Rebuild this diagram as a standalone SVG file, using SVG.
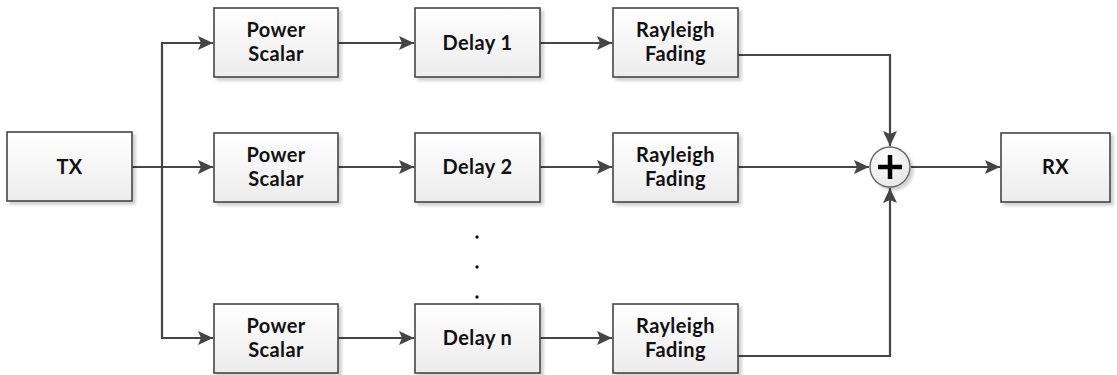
<svg xmlns="http://www.w3.org/2000/svg" width="1117" height="375" viewBox="0 0 1117 375">
  <style>
    .box { fill: url(#boxFill); stroke: #454545; stroke-width: 1.6; filter: url(#shadow); }
    .lbl { font-family: Lato, "Open Sans", "Liberation Sans", sans-serif; font-weight: 700; font-size: 20px; letter-spacing: 0.4px; fill: #111; text-anchor: middle; }
    .wire { fill: none; stroke: #454545; stroke-width: 2.2; }
    .dot { fill: #111; }
  </style>
  <defs>
    <linearGradient id="boxFill" x1="0" y1="0" x2="0" y2="1">
      <stop offset="0" stop-color="#ffffff"/>
      <stop offset="1" stop-color="#ececec"/>
    </linearGradient>
    <radialGradient id="sumFill" cx="0.4" cy="0.35" r="0.7">
      <stop offset="0" stop-color="#ffffff"/>
      <stop offset="1" stop-color="#e6e6e6"/>
    </radialGradient>
    <filter id="shadow" x="-10%" y="-10%" width="125%" height="130%">
      <feDropShadow dx="3" dy="3" stdDeviation="1.5" flood-color="#000" flood-opacity="0.18"/>
    </filter>
    <marker id="arrow" markerUnits="userSpaceOnUse" markerWidth="16" markerHeight="14" refX="15" refY="7" orient="auto">
      <path d="M0,0 L15,7 L0,14 L3,7 Z" fill="#454545"/>
    </marker>
  </defs>

  <!-- connectors -->
  <g id="connectors">
    <line class="wire" x1="132" y1="167" x2="213" y2="167" marker-end="url(#arrow)"/>
    <line class="wire" x1="162" y1="43" x2="162" y2="338"/>
    <line class="wire" x1="161" y1="43" x2="213" y2="43" marker-end="url(#arrow)"/>
    <line class="wire" x1="161" y1="338" x2="213" y2="338" marker-end="url(#arrow)"/>

    <line class="wire" x1="338" y1="43" x2="414" y2="43" marker-end="url(#arrow)"/>
    <line class="wire" x1="338" y1="167" x2="414" y2="167" marker-end="url(#arrow)"/>
    <line class="wire" x1="338" y1="338" x2="414" y2="338" marker-end="url(#arrow)"/>

    <line class="wire" x1="540" y1="43" x2="612" y2="43" marker-end="url(#arrow)"/>
    <line class="wire" x1="540" y1="167" x2="612" y2="167" marker-end="url(#arrow)"/>
    <line class="wire" x1="540" y1="338" x2="612" y2="338" marker-end="url(#arrow)"/>

    <polyline class="wire" points="738,55 890,55 890,146" marker-end="url(#arrow)"/>
    <line class="wire" x1="738" y1="167" x2="869" y2="167" marker-end="url(#arrow)"/>
    <polyline class="wire" points="738,356 890,356 890,188" marker-end="url(#arrow)"/>

    <line class="wire" x1="911" y1="167" x2="1000" y2="167" marker-end="url(#arrow)"/>
  </g>

  <!-- source -->
  <g id="tx">
    <rect class="box" x="7" y="132" width="125" height="69"/>
    <text class="lbl" x="69.5" y="174">TX</text>
  </g>

  <!-- path 1 -->
  <g id="power1">
    <rect class="box" x="214" y="8" width="124" height="69"/>
    <text class="lbl" x="276" y="37">Power</text>
    <text class="lbl" x="276" y="61">Scalar</text>
  </g>
  <g id="delay1">
    <rect class="box" x="415" y="8" width="125" height="69"/>
    <text class="lbl" x="477.5" y="50">Delay 1</text>
  </g>
  <g id="fading1">
    <rect class="box" x="613" y="8" width="125" height="69"/>
    <text class="lbl" x="675.5" y="37">Rayleigh</text>
    <text class="lbl" x="675.5" y="61">Fading</text>
  </g>

  <!-- path 2 -->
  <g id="power2">
    <rect class="box" x="214" y="133" width="124" height="69"/>
    <text class="lbl" x="276" y="162">Power</text>
    <text class="lbl" x="276" y="186">Scalar</text>
  </g>
  <g id="delay2">
    <rect class="box" x="415" y="133" width="125" height="69"/>
    <text class="lbl" x="477.5" y="174">Delay 2</text>
  </g>
  <g id="fading2">
    <rect class="box" x="613" y="133" width="125" height="69"/>
    <text class="lbl" x="675.5" y="162">Rayleigh</text>
    <text class="lbl" x="675.5" y="186">Fading</text>
  </g>

  <!-- ellipsis between paths -->
  <g id="ellipsis">
    <circle class="dot" cx="477" cy="237" r="1.7"/>
    <circle class="dot" cx="477" cy="267" r="1.7"/>
    <circle class="dot" cx="477" cy="297" r="1.7"/>
  </g>

  <!-- path n -->
  <g id="powerN">
    <rect class="box" x="214" y="304" width="124" height="69"/>
    <text class="lbl" x="276" y="333">Power</text>
    <text class="lbl" x="276" y="357">Scalar</text>
  </g>
  <g id="delayN">
    <rect class="box" x="415" y="304" width="125" height="69"/>
    <text class="lbl" x="477.5" y="345">Delay n</text>
  </g>
  <g id="fadingN">
    <rect class="box" x="613" y="304" width="125" height="69"/>
    <text class="lbl" x="675.5" y="333">Rayleigh</text>
    <text class="lbl" x="675.5" y="357">Fading</text>
  </g>

  <!-- summing junction -->
  <g id="sum">
    <circle cx="890" cy="167" r="20" fill="url(#sumFill)" stroke="#666" stroke-width="1.4" filter="url(#shadow)"/>
    <path d="M878,167 H902 M890,155 V179" stroke="#000" stroke-width="4.5" fill="none"/>
  </g>

  <!-- receiver -->
  <g id="rx">
    <rect class="box" x="1001" y="133" width="109" height="69"/>
    <text class="lbl" x="1055.5" y="174">RX</text>
  </g>
</svg>
